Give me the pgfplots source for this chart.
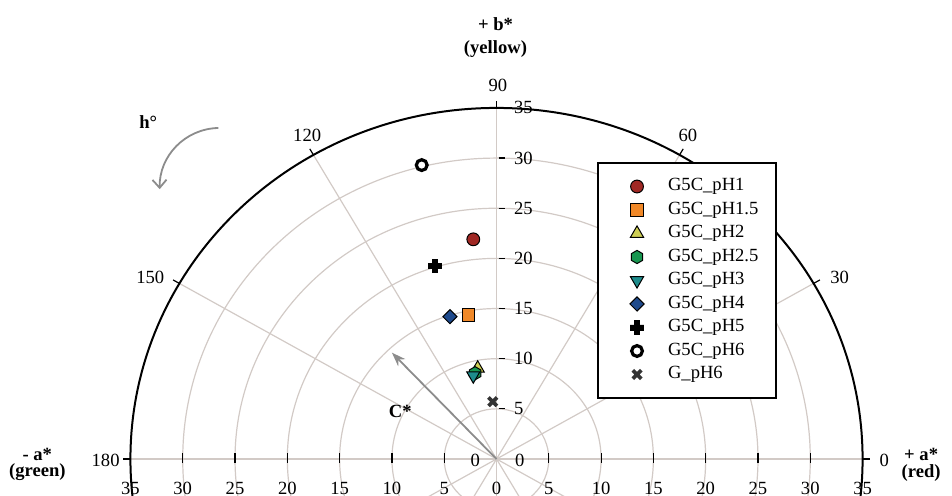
\documentclass[border=0pt]{standalone}
\usepackage{pgfplots}
\pgfplotsset{compat=1.18}
\usepackage{fontspec}
\setmainfont{Liberation Serif}
\usetikzlibrary{arrows.meta}

\definecolor{gridc}{RGB}{210,202,198}
\definecolor{cA}{RGB}{160,40,36}
\definecolor{cB}{RGB}{240,136,40}
\definecolor{cC}{RGB}{206,206,84}
\definecolor{cD}{RGB}{24,150,80}
\definecolor{cE}{RGB}{30,140,140}
\definecolor{cF}{RGB}{30,74,140}
\definecolor{arr}{RGB}{140,140,140}

\pgfdeclareplotmark{hexagon*}{%
  \pgfpathmoveto{\pgfqpointpolar{90}{\pgfplotmarksize}}%
  \pgfpathlineto{\pgfqpointpolar{150}{\pgfplotmarksize}}%
  \pgfpathlineto{\pgfqpointpolar{210}{\pgfplotmarksize}}%
  \pgfpathlineto{\pgfqpointpolar{270}{\pgfplotmarksize}}%
  \pgfpathlineto{\pgfqpointpolar{330}{\pgfplotmarksize}}%
  \pgfpathlineto{\pgfqpointpolar{30}{\pgfplotmarksize}}%
  \pgfpathclose\pgfusepathqfillstroke}
\pgfdeclareplotmark{fatplus}{%
  \pgfpathmoveto{\pgfqpoint{-0.38\pgfplotmarksize}{\pgfplotmarksize}}%
  \pgfpathlineto{\pgfqpoint{0.38\pgfplotmarksize}{\pgfplotmarksize}}%
  \pgfpathlineto{\pgfqpoint{0.38\pgfplotmarksize}{0.38\pgfplotmarksize}}%
  \pgfpathlineto{\pgfqpoint{\pgfplotmarksize}{0.38\pgfplotmarksize}}%
  \pgfpathlineto{\pgfqpoint{\pgfplotmarksize}{-0.38\pgfplotmarksize}}%
  \pgfpathlineto{\pgfqpoint{0.38\pgfplotmarksize}{-0.38\pgfplotmarksize}}%
  \pgfpathlineto{\pgfqpoint{0.38\pgfplotmarksize}{-\pgfplotmarksize}}%
  \pgfpathlineto{\pgfqpoint{-0.38\pgfplotmarksize}{-\pgfplotmarksize}}%
  \pgfpathlineto{\pgfqpoint{-0.38\pgfplotmarksize}{-0.38\pgfplotmarksize}}%
  \pgfpathlineto{\pgfqpoint{-\pgfplotmarksize}{-0.38\pgfplotmarksize}}%
  \pgfpathlineto{\pgfqpoint{-\pgfplotmarksize}{0.38\pgfplotmarksize}}%
  \pgfpathlineto{\pgfqpoint{-0.38\pgfplotmarksize}{0.38\pgfplotmarksize}}%
  \pgfpathclose\pgfusepathqfillstroke}

\pgfplotsset{lgd/.style={legend image code/.code={\path (0pt,0pt) (25pt,0pt);\draw[mark repeat=2,mark phase=2,##1] plot coordinates {(0pt,0pt) (10pt,0pt) (25pt,0pt)};}}}

\begin{document}
\begin{tikzpicture}[font=\fontsize{9.3}{11}\selectfont]
\begin{axis}[
  width=476pt, height=247.5pt, scale only axis,
  xmin=-47.47, xmax=43.55, ymin=-3.59, ymax=45.76,
  hide axis, clip=true,
  legend style={at={(axis cs:9.61,29.61)}, anchor=north west,
    draw=black, line width=1pt, fill=white,
    inner xsep=9pt, inner ysep=7pt,
    font=\fontsize{9.3}{11}\selectfont,
    cells={anchor=west},
    nodes={inner sep=0pt, text height=7pt, text depth=2.5pt},
    row sep=2.25pt},
]
% grid circles
\pgfplotsinvokeforeach{5,10,15,20,25,30}{
  \draw[gridc, line width=0.6pt] (axis cs:0,0) ellipse [x radius=#1, y radius=#1];
}
% spokes
\draw[gridc, line width=0.6pt] (axis cs:-35,0) -- (axis cs:35,0);
\draw[gridc, line width=0.6pt] (axis cs:0,-35) -- (axis cs:0,35);
\draw[gridc, line width=0.6pt] (axis cs:30.31,17.5) -- (axis cs:-30.31,-17.5);
\draw[gridc, line width=0.6pt] (axis cs:17.5,30.31) -- (axis cs:-17.5,-30.31);
\draw[gridc, line width=0.6pt] (axis cs:-17.5,30.31) -- (axis cs:17.5,-30.31);
\draw[gridc, line width=0.6pt] (axis cs:-30.31,17.5) -- (axis cs:30.31,-17.5);
% outer circle
\draw[black, line width=1pt] (axis cs:0,0) ellipse [x radius=35, y radius=35];
% angle ticks
\draw[black, line width=0.6pt] (axis cs:35,0) -- (axis cs:35.7,0);
\draw[black, line width=0.6pt] (axis cs:30.31,17.5) -- (axis cs:30.92,17.85);
\draw[black, line width=0.6pt] (axis cs:17.5,30.31) -- (axis cs:17.85,30.92);
\draw[black, line width=0.6pt] (axis cs:0,35) -- (axis cs:0,35.7);
\draw[black, line width=0.6pt] (axis cs:-17.5,30.31) -- (axis cs:-17.85,30.92);
\draw[black, line width=0.6pt] (axis cs:-30.31,17.5) -- (axis cs:-30.92,17.85);
\draw[black, line width=0.6pt] (axis cs:-35,0) -- (axis cs:-35.7,0);
% b* ticks and labels
\pgfplotsinvokeforeach{5,10,15,20,25,30,35}{
  \draw[black, line width=0.6pt] (axis cs:0.2,#1) -- (axis cs:0.8,#1);
  \node[anchor=west, inner sep=0pt] at (axis cs:1.65,#1) {#1};
}
\node[anchor=west, inner sep=0pt] at (axis cs:1.75,-0.1) {0};
\node[anchor=east, inner sep=0pt] at (axis cs:-1.55,-0.1) {0};
% a* ticks and labels
\pgfplotsinvokeforeach{5,10,15,20,25,30,35}{
  \draw[black, line width=0.6pt] (axis cs:#1,-0.4) -- (axis cs:#1,0.6);
  \draw[black, line width=0.6pt] (axis cs:-#1,-0.4) -- (axis cs:-#1,0.6);
  \node at (axis cs:#1,-2.95) {#1};
  \node at (axis cs:-#1,-2.95) {#1};
}
\node at (axis cs:0,-2.95) {0};
% angle labels
\node at (axis cs:0.14,37.2) {90};
\node at (axis cs:-18.1,32.3) {120};
\node at (axis cs:18.3,32.3) {60};
\node at (axis cs:-33.1,18.1) {150};
\node at (axis cs:32.8,18.1) {30};
\node[anchor=east, inner sep=0pt] at (axis cs:-36.0,-0.1) {180};
\node[anchor=west, inner sep=0pt] at (axis cs:36.6,-0.1) {0};
% axis names
\node[font=\fontsize{9.3}{11}\selectfont\bfseries] at (axis cs:-0.1,43.4) {+ b*};
\node[font=\fontsize{9.3}{11}\selectfont\bfseries] at (axis cs:-0.1,40.9) {(yellow)};
\node[font=\fontsize{9.3}{11}\selectfont\bfseries, inner sep=0pt] at (axis cs:-43.9,0.45) {- a*};
\node[font=\fontsize{9.3}{11}\selectfont\bfseries, inner sep=0pt] at (axis cs:-43.9,-1.35) {(green)};
\node[font=\fontsize{9.3}{11}\selectfont\bfseries, inner sep=0pt] at (axis cs:40.6,0.45) {+ a*};
\node[font=\fontsize{9.3}{11}\selectfont\bfseries, inner sep=0pt] at (axis cs:40.6,-1.35) {(red)};
% arrows
\draw[arr, line width=0.9pt, -{Stealth[length=7pt,width=5pt]}] (axis cs:0,0) -- (axis cs:-10.0,10.6);
\node[font=\fontsize{9.3}{11}\selectfont\bfseries] at (axis cs:-9.2,4.7) {C*};
\draw[arr, line width=0.9pt, -{Straight Barb[length=4pt,width=7pt]}] (axis cs:-26.6,33.0) to[bend right=45] (axis cs:-32.2,26.9);
\node[font=\fontsize{9.3}{11}\selectfont\bfseries] at (axis cs:-33.3,33.6) {h°};

% data
\addplot[only marks, lgd, mark=*, mark size=3.2pt, mark options={fill=cA, draw=black, line width=0.5pt}]
  coordinates {(-2.22,21.90)};
\addlegendentry{G5C\_pH1}
\addplot[only marks, lgd, mark=square*, mark size=3.1pt, mark options={fill=cB, draw=black, line width=0.5pt}]
  coordinates {(-2.69,14.36)};
\addlegendentry{G5C\_pH1.5}
\addplot[only marks, lgd, mark=triangle*, mark size=3.8pt, mark options={fill=cC, draw=black, line width=0.5pt}]
  coordinates {(-1.80,9.04)};
\addlegendentry{G5C\_pH2}
\addplot[only marks, lgd, mark=hexagon*, mark size=3.3pt, mark options={fill=cD, draw=black, line width=0.5pt}]
  coordinates {(-2.05,8.55)};
\addlegendentry{G5C\_pH2.5}
\addplot[only marks, lgd, mark=triangle*, mark size=3.8pt, mark options={rotate=180, fill=cE, draw=black, line width=0.5pt}]
  coordinates {(-2.22,8.31)};
\addlegendentry{G5C\_pH3}
\addplot[only marks, lgd, mark=square*, mark size=2.5pt, mark options={rotate=45, fill=cF, draw=black, line width=0.5pt}]
  coordinates {(-4.45,14.19)};
\addlegendentry{G5C\_pH4}
\addplot[only marks, lgd, mark=fatplus, mark size=3.4pt, mark options={fill=black, draw=black, line width=0.4pt}]
  coordinates {(-5.88,19.24)};
\addlegendentry{G5C\_pH5}
\addplot[only marks, lgd, mark=*, mark size=2.7pt, mark options={fill=white, draw=black, line width=1.6pt}]
  coordinates {(-7.15,29.30)};
\addlegendentry{G5C\_pH6}
\addplot[only marks, lgd, mark=x, mark size=3.0pt, mark options={draw=black!80, line width=1.8pt}]
  coordinates {(-0.36,5.71)};
\addlegendentry{G\_pH6}
\end{axis}
\pgfresetboundingbox
\path[use as bounding box] (current axis.south west) rectangle (current axis.north east);
\end{tikzpicture}
\end{document}
